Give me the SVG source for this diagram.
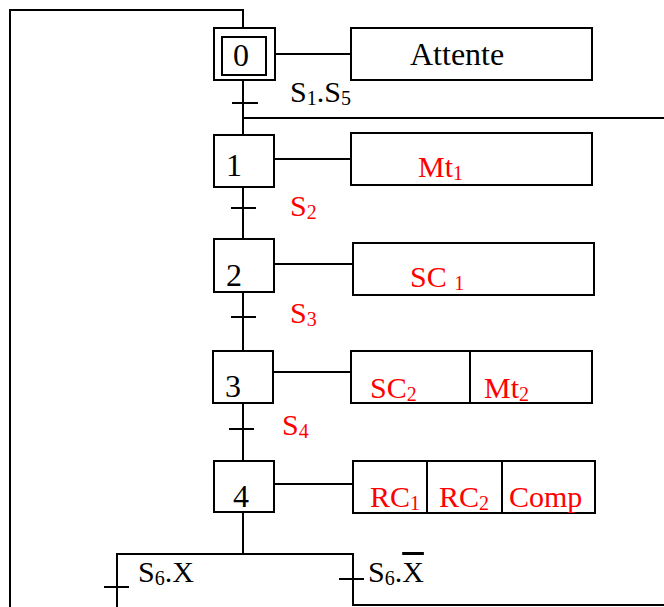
<svg xmlns="http://www.w3.org/2000/svg" width="664" height="607" viewBox="0 0 664 607">
<style>
.ln{stroke:#000;stroke-width:2;fill:none;stroke-linecap:square}
.bx{fill:#fff;stroke:#000;stroke-width:2}
text{font-family:"Liberation Serif","Times New Roman",serif;font-size:30px;fill:#000}
.num{font-size:32px;text-anchor:middle}
.big{font-size:32px}
.red{fill:#ff0000}
.sub{font-size:20px}
</style>
<rect width="664" height="607" fill="#fff"/>
<g id="connectors">
<polyline class="ln" points="10,607 10,10 243,10 243,28"/>
<line class="ln" x1="243" y1="80" x2="243" y2="135"/>
<line class="ln" x1="243" y1="118" x2="664" y2="118"/>
<line class="ln" x1="243" y1="187" x2="243" y2="239"/>
<line class="ln" x1="243" y1="292" x2="243" y2="351"/>
<line class="ln" x1="243" y1="403" x2="243" y2="461"/>
<line class="ln" x1="243" y1="512" x2="243" y2="554"/>
<line class="ln" x1="117" y1="554" x2="353" y2="554"/>
<line class="ln" x1="117" y1="554" x2="117" y2="607"/>
<polyline class="ln" points="353,554 353,605 664,605"/>
<line class="ln" x1="275" y1="54" x2="351" y2="54"/>
<line class="ln" x1="274" y1="159" x2="351" y2="159"/>
<line class="ln" x1="274" y1="264" x2="353" y2="264"/>
<line class="ln" x1="273" y1="372" x2="351" y2="372"/>
<line class="ln" x1="274" y1="484" x2="353" y2="484"/>
</g>
<g id="t01">
<line class="ln" x1="233" y1="103" x2="257" y2="103"/>
<text x="290" y="102">S<tspan class="sub" dy="3">1</tspan><tspan dy="-3">.S</tspan><tspan class="sub" dy="3">5</tspan></text>
</g>
<g id="t12">
<line class="ln" x1="232" y1="208" x2="255" y2="208"/>
<text class="red" x="290" y="216">S<tspan class="sub" dy="3">2</tspan></text>
</g>
<g id="t23">
<line class="ln" x1="232" y1="317" x2="255" y2="317"/>
<text class="red" x="290" y="323">S<tspan class="sub" dy="3">3</tspan></text>
</g>
<g id="t34">
<line class="ln" x1="230" y1="429" x2="253" y2="429"/>
<text class="red" x="282" y="435">S<tspan class="sub" dy="3">4</tspan></text>
</g>
<g id="t4a">
<line class="ln" x1="105" y1="587" x2="128" y2="587"/>
<text x="138" y="582">S<tspan class="sub" dy="3">6</tspan><tspan dy="-3">.X</tspan></text>
</g>
<g id="t4b">
<line class="ln" x1="340" y1="579" x2="363" y2="579"/>
<text x="368" y="582">S<tspan class="sub" dy="3">6</tspan><tspan dy="-3">.</tspan><tspan text-decoration="overline">X</tspan></text>
</g>
<g id="step0">
<rect class="bx" x="214" y="28" width="61" height="52"/>
<rect class="bx" x="222" y="37" width="44" height="38"/>
<text class="num" x="241" y="66">0</text>
</g>
<g id="step1">
<rect class="bx" x="214" y="135" width="60" height="52"/>
<text class="num" x="234" y="176">1</text>
</g>
<g id="step2">
<rect class="bx" x="214" y="239" width="60" height="53"/>
<text class="num" x="234" y="286">2</text>
</g>
<g id="step3">
<rect class="bx" x="213" y="351" width="60" height="52"/>
<text class="num" x="233" y="397">3</text>
</g>
<g id="step4">
<rect class="bx" x="214" y="461" width="60" height="51"/>
<text class="num" x="241" y="507">4</text>
</g>
<g id="action0">
<rect class="bx" x="351" y="28" width="241" height="52"/>
<text class="big" x="410" y="65">Attente</text>
</g>
<g id="action1">
<rect class="bx" x="351" y="133" width="241" height="52"/>
<text class="red" x="418" y="177">Mt<tspan class="sub" dy="3">1</tspan></text>
</g>
<g id="action2">
<rect class="bx" x="353" y="243" width="241" height="52"/>
<text class="red" x="410" y="287">SC <tspan class="sub" dy="3">1</tspan></text>
</g>
<g id="action3">
<rect class="bx" x="351" y="351" width="241" height="52"/>
<line class="ln" x1="470" y1="351" x2="470" y2="403"/>
<text class="red" x="370" y="398">SC<tspan class="sub" dy="3">2</tspan></text>
<text class="red" x="484" y="398">Mt<tspan class="sub" dy="3">2</tspan></text>
</g>
<g id="action4">
<rect class="bx" x="353" y="461" width="242" height="52"/>
<line class="ln" x1="427" y1="461" x2="427" y2="513"/>
<line class="ln" x1="502" y1="461" x2="502" y2="513"/>
<text class="red" x="370" y="507">RC<tspan class="sub" dy="3">1</tspan></text>
<text class="red" x="439" y="507">RC<tspan class="sub" dy="3">2</tspan></text>
<text class="red" x="509" y="507">Comp</text>
</g>
</svg>
